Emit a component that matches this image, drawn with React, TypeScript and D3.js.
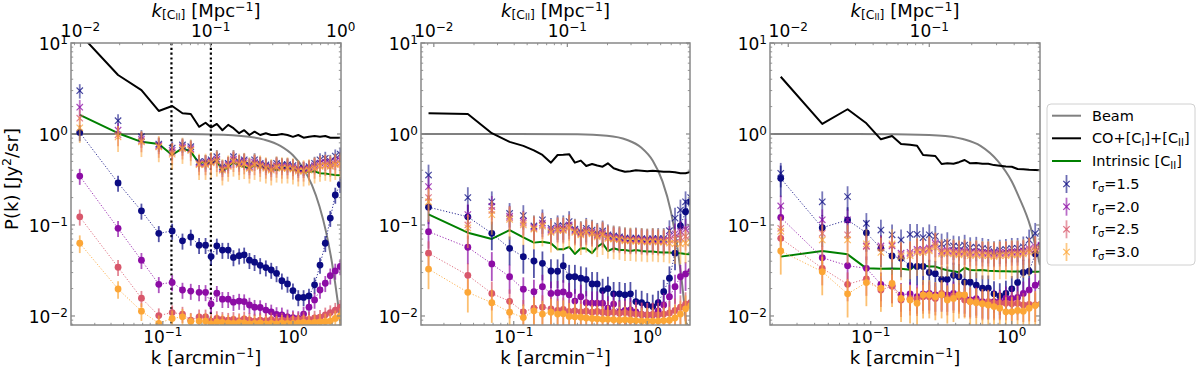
import React from "react";
import * as d3 from "d3";

const FONT = "'DejaVu Sans', sans-serif";

// shared k bins [arcmin^-1]
const K = [0.023, 0.0453, 0.0685, 0.0931, 0.118, 0.1416, 0.164, 0.19, 0.213, 0.235, 0.26, 0.287, 0.318, 0.349, 0.386, 0.422, 0.463, 0.507, 0.56, 0.619, 0.681, 0.748, 0.822, 0.908, 1.0, 1.099, 1.207, 1.328, 1.466, 1.614, 1.772, 1.936, 2.115, 2.31];

const SERIES_COLORS = ["#0b0b82", "#8c0ca5", "#d8576b", "#fca636"];
const SERIES_LABELS = ["1.5", "2.0", "2.5", "3.0"];

// ---------- Panel 1 ----------
const p1Black = [12.6, 4.45, 3.04, 1.79, 2.03, 1.69, 1.66, 1.2, 1.33, 1.18, 1.29, 1.1, 1.26, 1.16, 1.02, 1.1, 0.975, 1.06, 0.975, 1.02, 0.975, 0.975, 1.0, 0.975, 0.93, 0.975, 0.91, 0.935, 0.95, 0.935, 0.95, 0.91, 0.91, 0.91];
const p1Green = [1.62, 1.02, 0.82, 0.776, 0.588, 0.7, 0.64, 0.476, 0.497, 0.468, 0.52, 0.385, 0.437, 0.49, 0.45, 0.437, 0.42, 0.457, 0.437, 0.42, 0.42, 0.402, 0.42, 0.42, 0.402, 0.4, 0.385, 0.385, 0.39, 0.37, 0.367, 0.36, 0.354, 0.352];
const p1BeamK = [0.0197, 0.05, 0.1, 0.2, 0.4, 0.6, 0.8, 1.0, 1.2, 1.4, 1.6, 1.8, 2.0, 2.2, 2.34];
const p1BeamP = [1, 1, 0.999, 0.992, 0.951, 0.867, 0.739, 0.583, 0.42, 0.274, 0.16, 0.083, 0.0377, 0.015, 0.0072];
const p1DotR15 = [1.04, 0.29, 0.143, 0.081, 0.086, 0.067, 0.074, 0.06, 0.06, 0.045, 0.059, 0.053, 0.053, 0.044, 0.046, 0.047, 0.041, 0.039, 0.036, 0.034, 0.032, 0.0294, 0.0244, 0.0225, 0.019, 0.016, 0.016, 0.0166, 0.022, 0.0363, 0.063, 0.119, 0.214, 0.28];
const p1DotR20 = [0.345, 0.092, 0.041, 0.0223, 0.0234, 0.0193, 0.0188, 0.0182, 0.0182, 0.0135, 0.0178, 0.0153, 0.0153, 0.0142, 0.0146, 0.0144, 0.0132, 0.0125, 0.0124, 0.0116, 0.0111, 0.0104, 0.0103, 0.0098, 0.0096, 0.0094, 0.0105, 0.0125, 0.015, 0.0193, 0.0229, 0.0277, 0.0313, 0.035];
const p1DotR25 = [0.123, 0.0343, 0.0157, 0.0101, 0.0109, 0.0105, 0.009, 0.0098, 0.0098, 0.0088, 0.0094, 0.0092, 0.009, 0.0092, 0.0089, 0.0093, 0.009, 0.0088, 0.009, 0.0089, 0.0091, 0.0088, 0.009, 0.0089, 0.0092, 0.0091, 0.0093, 0.0092, 0.0095, 0.0097, 0.0103, 0.0109, 0.0116, 0.0125];
const p1DotR30 = [0.063, 0.0198, 0.0113, 0.0083, 0.0094, 0.0098, 0.0087, 0.0088, 0.0088, 0.0082, 0.0086, 0.0085, 0.0084, 0.0083, 0.0085, 0.0084, 0.0082, 0.0083, 0.0084, 0.0082, 0.0083, 0.0082, 0.0084, 0.0083, 0.0083, 0.0084, 0.0085, 0.0084, 0.0085, 0.0086, 0.0087, 0.0088, 0.0094, 0.01];
const p1CrossR15 = [2.99, 1.4, 0.934, 0.776, 0.7, 0.757, 0.725, 0.497, 0.497, 0.52, 0.563, 0.437, 0.476, 0.563, 0.497, 0.52, 0.457, 0.52, 0.476, 0.457, 0.437, 0.476, 0.46, 0.46, 0.45, 0.42, 0.42, 0.437, 0.476, 0.52, 0.54, 0.5, 0.573, 0.6];
const p1CrossR20 = [1.97, 1.1, 0.88, 0.75, 0.66, 0.72, 0.69, 0.48, 0.48, 0.5, 0.53, 0.42, 0.46, 0.53, 0.48, 0.5, 0.44, 0.49, 0.46, 0.44, 0.42, 0.45, 0.44, 0.44, 0.43, 0.41, 0.41, 0.42, 0.45, 0.48, 0.49, 0.47, 0.5, 0.52];
const p1CrossR25 = [1.49, 0.98, 0.84, 0.73, 0.63, 0.7, 0.67, 0.47, 0.47, 0.49, 0.51, 0.41, 0.45, 0.51, 0.47, 0.48, 0.43, 0.47, 0.45, 0.43, 0.41, 0.44, 0.43, 0.43, 0.42, 0.4, 0.4, 0.41, 0.43, 0.45, 0.46, 0.45, 0.47, 0.48];
const p1CrossR30 = [1.17, 0.93, 0.82, 0.72, 0.6, 0.69, 0.66, 0.46, 0.46, 0.48, 0.5, 0.4, 0.44, 0.5, 0.46, 0.47, 0.42, 0.46, 0.44, 0.42, 0.4, 0.43, 0.42, 0.42, 0.41, 0.39, 0.39, 0.4, 0.42, 0.44, 0.45, 0.44, 0.46, 0.47];
const p1DotErr = [0.2, 0.2, 0.2, 0.22];
const p1CrossErr = [0.18, 0.2, 0.25, 0.32];
const p1VLines = [0.1165, 0.234];

// ---------- Panel 2 ----------
const p2Black = [1.69, 1.66, 1.02, 0.82, 0.74, 0.66, 0.588, 0.484, 0.588, 0.59, 0.6, 0.484, 0.51, 0.445, 0.468, 0.45, 0.437, 0.476, 0.42, 0.4, 0.385, 0.39, 0.4, 0.395, 0.39, 0.395, 0.39, 0.385, 0.385, 0.38, 0.37, 0.37, 0.385, 0.385];
const p2Green = [0.131, 0.0823, 0.0702, 0.088, 0.0732, 0.064, 0.0656, 0.063, 0.054, 0.054, 0.0575, 0.048, 0.0554, 0.055, 0.049, 0.0575, 0.063, 0.0518, 0.0554, 0.0531, 0.0531, 0.0518, 0.0531, 0.0518, 0.051, 0.051, 0.0503, 0.0497, 0.0497, 0.049, 0.049, 0.048, 0.0476, 0.0475];
const p2BeamK = [0.0202, 0.1, 0.3, 0.5, 0.7, 0.9, 1.1, 1.3, 1.5, 1.7, 1.9, 2.0];
const p2BeamP = [1, 1, 0.992, 0.955, 0.864, 0.71, 0.508, 0.302, 0.143, 0.0507, 0.0129, 0.0056];
const p2DotR15 = [0.157, 0.123, 0.081, 0.0554, 0.0449, 0.0402, 0.0379, 0.0312, 0.031, 0.0357, 0.027, 0.027, 0.026, 0.0253, 0.0225, 0.0225, 0.019, 0.02, 0.0175, 0.0175, 0.0171, 0.0175, 0.0144, 0.014, 0.0132, 0.0127, 0.014, 0.0185, 0.026, 0.049, 0.098, 0.14, 0.18, 0.22];
const p2DotR20 = [0.0845, 0.0569, 0.0373, 0.027, 0.0197, 0.0185, 0.021, 0.0177, 0.018, 0.0184, 0.0171, 0.0146, 0.0163, 0.014, 0.0138, 0.0138, 0.0138, 0.0122, 0.0135, 0.0111, 0.0115, 0.0117, 0.0111, 0.0104, 0.0103, 0.0103, 0.0114, 0.0132, 0.0163, 0.021, 0.027, 0.029, 0.031, 0.033];
const p2DotR25 = [0.049, 0.028, 0.0177, 0.0145, 0.0111, 0.0122, 0.0125, 0.012, 0.0115, 0.0118, 0.0112, 0.0114, 0.0111, 0.0113, 0.011, 0.0112, 0.011, 0.0108, 0.011, 0.0107, 0.0109, 0.0106, 0.0105, 0.0104, 0.0103, 0.0104, 0.0103, 0.0105, 0.0108, 0.0115, 0.0125, 0.0135, 0.014, 0.015];
const p2DotR30 = [0.0328, 0.0182, 0.014, 0.011, 0.0096, 0.0114, 0.0105, 0.011, 0.0105, 0.0106, 0.0099, 0.0098, 0.0097, 0.0095, 0.0094, 0.0093, 0.0092, 0.0092, 0.0091, 0.009, 0.0091, 0.009, 0.0089, 0.0088, 0.0088, 0.0088, 0.0088, 0.0089, 0.009, 0.0095, 0.0105, 0.012, 0.013, 0.014];
const p2CrossR15 = [0.354, 0.2, 0.18, 0.134, 0.127, 0.0975, 0.114, 0.092, 0.098, 0.098, 0.109, 0.09, 0.0845, 0.092, 0.088, 0.081, 0.086, 0.078, 0.0757, 0.0742, 0.072, 0.071, 0.072, 0.071, 0.07, 0.071, 0.071, 0.071, 0.0866, 0.119, 0.146, 0.18, 0.2, 0.22];
const p2CrossR20 = [0.264, 0.13, 0.16, 0.125, 0.11, 0.095, 0.105, 0.088, 0.093, 0.092, 0.1, 0.087, 0.082, 0.087, 0.084, 0.078, 0.082, 0.075, 0.073, 0.072, 0.07, 0.069, 0.07, 0.069, 0.068, 0.069, 0.068, 0.068, 0.075, 0.08, 0.085, 0.09, 0.095, 0.1];
const p2CrossR25 = [0.2, 0.1, 0.145, 0.12, 0.105, 0.092, 0.1, 0.085, 0.09, 0.089, 0.096, 0.085, 0.08, 0.085, 0.082, 0.076, 0.08, 0.073, 0.071, 0.07, 0.068, 0.068, 0.068, 0.067, 0.066, 0.067, 0.066, 0.066, 0.068, 0.07, 0.072, 0.075, 0.078, 0.08];
const p2CrossR30 = [0.18, 0.093, 0.13, 0.115, 0.1, 0.09, 0.097, 0.083, 0.087, 0.087, 0.093, 0.083, 0.078, 0.083, 0.08, 0.074, 0.078, 0.071, 0.07, 0.069, 0.067, 0.067, 0.066, 0.066, 0.065, 0.066, 0.065, 0.065, 0.063, 0.062, 0.062, 0.063, 0.065, 0.067];
const p2DotErr = [0.35, 0.35, 0.35, 0.4];
const p2CrossErr = [0.3, 0.3, 0.3, 0.4];

// ---------- Panel 3 ----------
const p3Black = [4.26, 1.29, 1.87, 1.31, 0.874, 0.95, 0.776, 0.76, 0.744, 0.588, 0.58, 0.573, 0.468, 0.476, 0.47, 0.49, 0.518, 0.476, 0.48, 0.47, 0.47, 0.455, 0.449, 0.44, 0.437, 0.412, 0.41, 0.405, 0.402, 0.4, 0.4, 0.4, 0.4, 0.4];
const p3Green = [0.0449, 0.0518, 0.0476, 0.0334, 0.033, 0.0332, 0.033, 0.0322, 0.0371, 0.036, 0.0349, 0.0349, 0.033, 0.0318, 0.031, 0.0303, 0.0339, 0.032, 0.0318, 0.032, 0.0315, 0.0312, 0.031, 0.031, 0.0309, 0.0308, 0.0308, 0.0307, 0.0307, 0.0306, 0.0306, 0.0305, 0.0305, 0.0305];
const p3BeamK = [0.0193, 0.08, 0.15, 0.3, 0.45, 0.6, 0.8, 1.0, 1.12, 1.355, 1.51, 1.585];
const p3BeamP = [1, 1, 0.995, 0.965, 0.88, 0.74, 0.5, 0.3, 0.205, 0.096, 0.05, 0.036];
const p3DotR15 = [0.326, 0.0934, 0.1135, 0.082, 0.0554, 0.0456, 0.043, 0.0357, 0.035, 0.035, 0.0301, 0.0292, 0.0253, 0.0253, 0.028, 0.027, 0.0235, 0.0235, 0.0218, 0.0202, 0.0202, 0.0175, 0.0166, 0.0177, 0.0199, 0.0233, 0.0301, 0.031, 0.048, 0.06, 0.07, 0.08, 0.09, 0.1];
const p3DotR20 = [0.121, 0.0437, 0.0357, 0.0334, 0.0223, 0.0213, 0.0171, 0.0175, 0.0163, 0.0175, 0.0177, 0.0171, 0.0171, 0.0171, 0.0177, 0.0171, 0.0163, 0.015, 0.0155, 0.0144, 0.014, 0.0144, 0.0144, 0.0156, 0.0156, 0.016, 0.0177, 0.0193, 0.0218, 0.023, 0.025, 0.027, 0.03, 0.032];
const p3DotR25 = [0.0714, 0.0334, 0.0223, 0.0256, 0.0193, 0.0213, 0.015, 0.0156, 0.0154, 0.0163, 0.0163, 0.0156, 0.0177, 0.0156, 0.0166, 0.0163, 0.015, 0.0144, 0.0146, 0.0138, 0.0144, 0.0138, 0.0138, 0.0138, 0.0136, 0.0138, 0.0132, 0.0134, 0.0132, 0.0135, 0.014, 0.0145, 0.015, 0.0155];
const p3DotR30 = [0.0518, 0.0307, 0.0175, 0.0233, 0.0202, 0.0228, 0.0156, 0.015, 0.0138, 0.0171, 0.0171, 0.0163, 0.0171, 0.015, 0.0156, 0.0171, 0.0171, 0.0144, 0.014, 0.0136, 0.0132, 0.0127, 0.0122, 0.0111, 0.0111, 0.0115, 0.0113, 0.0122, 0.013, 0.0135, 0.014, 0.0145, 0.015, 0.0155];
const p3CrossR15 = [0.37, 0.18, 0.205, 0.104, 0.088, 0.078, 0.0685, 0.079, 0.079, 0.0727, 0.078, 0.075, 0.0618, 0.064, 0.0588, 0.058, 0.06, 0.0563, 0.057, 0.0554, 0.054, 0.0509, 0.053, 0.054, 0.0554, 0.0554, 0.0575, 0.0685, 0.081, 0.085, 0.09, 0.095, 0.1, 0.1];
const p3CrossR20 = [0.162, 0.114, 0.114, 0.0588, 0.0588, 0.0588, 0.049, 0.05, 0.054, 0.054, 0.056, 0.063, 0.052, 0.053, 0.052, 0.051, 0.052, 0.05, 0.051, 0.05, 0.05, 0.049, 0.05, 0.05, 0.051, 0.051, 0.052, 0.055, 0.058, 0.06, 0.062, 0.064, 0.066, 0.068];
const p3CrossR25 = [0.092, 0.081, 0.078, 0.058, 0.056, 0.06, 0.047, 0.048, 0.052, 0.052, 0.054, 0.06, 0.05, 0.051, 0.05, 0.049, 0.05, 0.048, 0.049, 0.048, 0.048, 0.047, 0.048, 0.048, 0.049, 0.049, 0.05, 0.053, 0.055, 0.057, 0.059, 0.06, 0.062, 0.064];
const p3CrossR30 = [0.085, 0.0685, 0.0685, 0.062, 0.05, 0.062, 0.045, 0.046, 0.05, 0.05, 0.052, 0.057, 0.048, 0.049, 0.048, 0.047, 0.048, 0.046, 0.047, 0.046, 0.046, 0.045, 0.046, 0.046, 0.047, 0.047, 0.048, 0.05, 0.052, 0.054, 0.056, 0.058, 0.06, 0.062];
const p3DotErr = [0.38, 0.35, 0.35, 0.45];
const p3CrossErr = [0.3, 0.3, 0.35, 0.45];

// axes
const Y_DOMAIN: [number, number] = [0.00796, 10];
const Y_TOP = 43;
const Y_BOTTOM = 325;

type PanelDef = {
  left: number; right: number; kMin: number; kMax: number; ratio: number;
  black: number[]; green: number[]; beamK: number[]; beamP: number[];
  dots: number[][]; crosses: number[][]; dotErr: number[]; crossErr: number[];
  vlines: number[]; yTitle: boolean;
};

const PANELS: PanelDef[] = [
  { left: 71, right: 341, kMin: 0.0197, kMax: 2.34, ratio: 2.33, black: p1Black, green: p1Green, beamK: p1BeamK, beamP: p1BeamP,
    dots: [p1DotR15, p1DotR20, p1DotR25, p1DotR30], crosses: [p1CrossR15, p1CrossR20, p1CrossR25, p1CrossR30],
    dotErr: p1DotErr, crossErr: p1CrossErr, vlines: p1VLines, yTitle: true },
  { left: 421, right: 690, kMin: 0.0202, kMax: 2.09, ratio: 2.52, black: p2Black, green: p2Green, beamK: p2BeamK, beamP: p2BeamP,
    dots: [p2DotR15, p2DotR20, p2DotR25, p2DotR30], crosses: [p2CrossR15, p2CrossR20, p2CrossR25, p2CrossR30],
    dotErr: p2DotErr, crossErr: p2CrossErr, vlines: [], yTitle: false },
  { left: 770, right: 1040, kMin: 0.0193, kMax: 1.585, ratio: 2.6, black: p3Black, green: p3Green, beamK: p3BeamK, beamP: p3BeamP,
    dots: [p3DotR15, p3DotR20, p3DotR25, p3DotR30], crosses: [p3CrossR15, p3CrossR20, p3CrossR25, p3CrossR30],
    dotErr: p3DotErr, crossErr: p3CrossErr, vlines: [], yTitle: false },
];

function logTicks(min: number, max: number) {
  const majors: number[] = [];
  const minors: number[] = [];
  for (let e = -4; e <= 2; e++) {
    for (let m = 1; m <= 9; m++) {
      const v = m * Math.pow(10, e);
      if (v >= min * 0.9999 && v <= max * 1.0001) (m === 1 ? majors : minors).push(v);
    }
  }
  return { majors, minors };
}

function expStr(v: number) {
  const e = Math.round(Math.log10(v));
  return e < 0 ? "\u2212" + -e : String(e);
}

const SPINE = "#888888";
const TICK_FS = 17;
const SUP_FS = 12;
const LABEL_FS = 18;

function Panel({ def, idx }: { def: PanelDef; idx: number }) {
  const x = d3.scaleLog().domain([def.kMin, def.kMax]).range([def.left, def.right]);
  const xt = d3.scaleLog().domain([def.kMin / def.ratio, def.kMax / def.ratio]).range([def.left, def.right]);
  const y = d3.scaleLog().domain(Y_DOMAIN).range([Y_BOTTOM, Y_TOP]);
  const clipId = `clip-${idx}`;
  const line = d3.line<[number, number]>().x((d) => x(d[0])).y((d) => y(d[1]));
  const smooth = d3.line<[number, number]>().x((d) => x(d[0])).y((d) => y(d[1])).curve(d3.curveMonotoneX);
  const pairs = (vals: number[]) => vals.map((v, i) => [K[i], v] as [number, number]);
  const beam = def.beamK.map((k, i) => [k, def.beamP[i]] as [number, number]);

  const yT = logTicks(Y_DOMAIN[0], Y_DOMAIN[1]);
  const xT = logTicks(def.kMin, def.kMax);
  const tT = logTicks(def.kMin / def.ratio, def.kMax / def.ratio);
  const cx = (def.left + def.right) / 2;

  return (
    <g>
      <defs>
        <clipPath id={clipId}>
          <rect x={def.left} y={Y_TOP} width={def.right - def.left} height={Y_BOTTOM - Y_TOP} />
        </clipPath>
      </defs>
      <g clipPath={`url(#${clipId})`}>
        <path d={smooth(beam) || ""} fill="none" stroke="#808080" strokeWidth={2} />
        <path d={line(pairs(def.black)) || ""} fill="none" stroke="#000" strokeWidth={2} strokeLinejoin="round" />
        <path d={line(pairs(def.green)) || ""} fill="none" stroke="#008000" strokeWidth={2} strokeLinejoin="round" />
        {def.vlines.map((k, i) => (
          <line key={"v" + i} x1={x(k)} x2={x(k)} y1={Y_TOP} y2={Y_BOTTOM} stroke="#000" strokeWidth={2.2} strokeDasharray="2.2,2.6" />
        ))}
        {SERIES_COLORS.map((c, s) => {
          const dv = def.dots[s];
          const cv = def.crosses[s];
          const de = def.dotErr[s];
          const ce = def.crossErr[s];
          return (
            <g key={"s" + s}>
              <path d={line(pairs(dv)) || ""} fill="none" stroke={c} strokeWidth={1} strokeDasharray="1.2,1.8" opacity={0.85} />
              {dv.map((v, i) => (
                <line key={"de" + i} x1={x(K[i])} x2={x(K[i])} y1={y(v * (1 + de))} y2={y(v * (1 - de))} stroke={c} strokeWidth={1.8} opacity={0.7} />
              ))}
              {dv.map((v, i) => (
                <circle key={"dm" + i} cx={x(K[i])} cy={y(v)} r={3.4} fill={c} />
              ))}
              {cv.map((v, i) => (
                <line key={"ce" + i} x1={x(K[i])} x2={x(K[i])} y1={y(v * (1 + ce))} y2={y(v * (1 - ce))} stroke={c} strokeWidth={1.8} opacity={0.55} />
              ))}
              {cv.map((v, i) => {
                const px = x(K[i]);
                const py = y(v);
                const h = 3.2;
                return (
                  <path key={"cm" + i} d={`M${px - h},${py - h}L${px + h},${py + h}M${px - h},${py + h}L${px + h},${py - h}`} stroke={c} strokeWidth={1.2} opacity={0.75} fill="none" />
                );
              })}
            </g>
          );
        })}
      </g>

      {/* ticks */}
      <g stroke={SPINE}>
        {yT.majors.map((v) => (
          <g key={"ym" + v}>
            <line x1={def.left} x2={def.left + 4} y1={y(v)} y2={y(v)} strokeWidth={1.2} />
            <line x1={def.right} x2={def.right - 4} y1={y(v)} y2={y(v)} strokeWidth={1.2} />
          </g>
        ))}
        {yT.minors.map((v) => (
          <g key={"yn" + v}>
            <line x1={def.left} x2={def.left + 2.2} y1={y(v)} y2={y(v)} strokeWidth={0.9} />
            <line x1={def.right} x2={def.right - 2.2} y1={y(v)} y2={y(v)} strokeWidth={0.9} />
          </g>
        ))}
        {xT.majors.map((v) => (
          <line key={"xm" + v} x1={x(v)} x2={x(v)} y1={Y_BOTTOM} y2={Y_BOTTOM - 4} strokeWidth={1.2} />
        ))}
        {xT.minors.map((v) => (
          <line key={"xn" + v} x1={x(v)} x2={x(v)} y1={Y_BOTTOM} y2={Y_BOTTOM - 2.2} strokeWidth={0.9} />
        ))}
        {tT.majors.map((v) => (
          <line key={"tm" + v} x1={xt(v)} x2={xt(v)} y1={Y_TOP} y2={Y_TOP + 4} strokeWidth={1.2} />
        ))}
        {tT.minors.map((v) => (
          <line key={"tn" + v} x1={xt(v)} x2={xt(v)} y1={Y_TOP} y2={Y_TOP + 2.2} strokeWidth={0.9} />
        ))}
      </g>
      <rect x={def.left} y={Y_TOP} width={def.right - def.left} height={Y_BOTTOM - Y_TOP} fill="none" stroke={SPINE} strokeWidth={1.5} />

      {/* tick labels */}
      <g fontSize={TICK_FS} fill="#000" style={{ whiteSpace: "pre" }}>
        {yT.majors.map((v) => (
          <text key={"yl" + v} x={def.left - 3} y={y(v) + 7} textAnchor="end">
            <tspan>10</tspan>
            <tspan dy={-6} fontSize={SUP_FS}>{expStr(v)}</tspan>
          </text>
        ))}
        {xT.majors.map((v) => (
          <text key={"xl" + v} x={x(v)} y={343} textAnchor="middle">
            <tspan>10</tspan>
            <tspan dy={-7} fontSize={SUP_FS}>{expStr(v)}</tspan>
          </text>
        ))}
        {tT.majors.map((v) => (
          <text key={"tl" + v} x={xt(v)} y={36.5} textAnchor="middle">
            <tspan>10</tspan>
            <tspan dy={-5.5} fontSize={SUP_FS}>{expStr(v)}</tspan>
          </text>
        ))}
      </g>

      {/* axis titles */}
      <text x={cx} y={16.5} textAnchor="middle" fontSize={LABEL_FS} style={{ whiteSpace: "pre" }}>
        <tspan fontStyle="italic">k</tspan>
        <tspan dy={2.5} fontSize={12.5}>[C</tspan>
        <tspan dy={1} fontSize={8.5}>II</tspan>
        <tspan dy={-1} fontSize={12.5}>]</tspan>
        <tspan dy={-2.5}> [Mpc</tspan>
        <tspan dy={-6} fontSize={12.5}>{"\u22121"}</tspan>
        <tspan dy={6}>]</tspan>
      </text>
      <text x={cx} y={364} textAnchor="middle" fontSize={LABEL_FS} style={{ whiteSpace: "pre" }}>
        <tspan>k [arcmin</tspan>
        <tspan dy={-7} fontSize={12.5}>{"\u22121"}</tspan>
        <tspan dy={7}>]</tspan>
      </text>
      {def.yTitle && (
        <text transform={`translate(18,${(Y_TOP + Y_BOTTOM) / 2 - 5}) rotate(-90)`} textAnchor="middle" fontSize={LABEL_FS} style={{ whiteSpace: "pre" }}>
          <tspan>P(k) [Jy</tspan>
          <tspan dy={-7} fontSize={12.5}>2</tspan>
          <tspan dy={7}>/sr]</tspan>
        </text>
      )}
    </g>
  );
}

function Legend() {
  const x0 = 1047;
  const y0 = 104;
  const rowY = [115.7, 138.3, 161, 184, 206.7, 229.3, 252];
  const hx1 = 1052;
  const hx2 = 1081;
  const tx = 1092;
  const fs = 14.5;
  const lines = [
    { color: "#808080" },
    { color: "#000" },
    { color: "#008000" },
  ];
  return (
    <g fontSize={fs} style={{ whiteSpace: "pre" }}>
      <rect x={x0} y={y0} width={148} height={161} rx={4} fill="#fff" fillOpacity={0.8} stroke="#d0d0d0" strokeWidth={1} />
      {lines.map((l, i) => (
        <line key={"l" + i} x1={hx1} x2={hx2} y1={rowY[i]} y2={rowY[i]} stroke={l.color} strokeWidth={2} />
      ))}
      <text x={tx} y={rowY[0] + 5}>Beam</text>
      <text x={tx} y={rowY[1] + 5}>
        <tspan>CO+[C</tspan>
        <tspan dy={3} fontSize={10}>I</tspan>
        <tspan dy={-3}>]+[C</tspan>
        <tspan dy={3} fontSize={10}>II</tspan>
        <tspan dy={-3}>]</tspan>
      </text>
      <text x={tx} y={rowY[2] + 5}>
        <tspan>Intrinsic [C</tspan>
        <tspan dy={3} fontSize={10}>II</tspan>
        <tspan dy={-3}>]</tspan>
      </text>
      {SERIES_COLORS.map((c, s) => {
        const cy = rowY[3 + s];
        const cxh = (hx1 + hx2) / 2;
        const h = 3.2;
        return (
          <g key={"r" + s}>
            <line x1={cxh} x2={cxh} y1={cy - 9} y2={cy + 9} stroke={c} strokeWidth={1.8} opacity={0.6} />
            <path d={`M${cxh - h},${cy - h}L${cxh + h},${cy + h}M${cxh - h},${cy + h}L${cxh + h},${cy - h}`} stroke={c} strokeWidth={1.2} opacity={0.8} fill="none" />
            <text x={tx} y={cy + 5}>
              <tspan>r</tspan>
              <tspan dy={3} fontSize={10}>σ</tspan>
              <tspan dy={-3}>={SERIES_LABELS[s]}</tspan>
            </text>
          </g>
        );
      })}
    </g>
  );
}

export default function App() {
  return (
    <svg width={1200} height={371} viewBox="0 0 1200 371" style={{ position: "absolute", left: 0, top: 0, background: "#fff" }} fontFamily={FONT}>
      <rect x={0} y={0} width={1200} height={371} fill="#fff" />
      {PANELS.map((p, i) => (
        <Panel key={i} def={p} idx={i} />
      ))}
      <Legend />
    </svg>
  );
}
